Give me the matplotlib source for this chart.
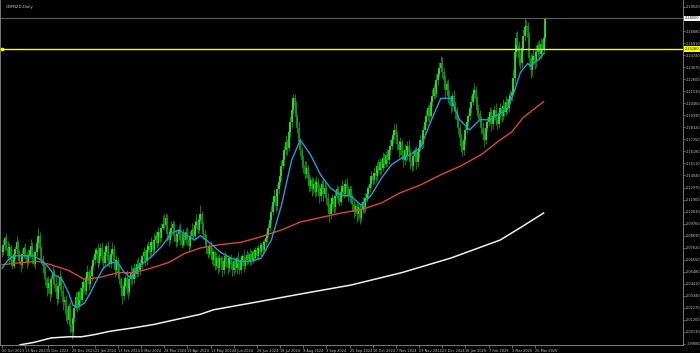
import matplotlib
matplotlib.use("Agg")
import matplotlib.pyplot as plt
import matplotlib.transforms as mtransforms
import numpy as np

plt.rcParams['font.family'] = ['Liberation Sans Narrow', 'DejaVu Sans']

title = "GBPNZD,Daily"

# daily closes, 20 Oct 2023 .. end of Mar 2025
closes = [
    2.072, 2.079, 2.085, 2.076, 2.069, 2.077, 2.065, 2.060, 2.071, 2.075, 2.081, 2.071, 2.064, 2.061, 2.071, 2.076,
    2.069, 2.063, 2.070, 2.074, 2.078, 2.068, 2.062, 2.072, 2.080, 2.087, 2.076, 2.066, 2.060, 2.055, 2.048, 2.040,
    2.045, 2.035, 2.048, 2.055, 2.044, 2.037, 2.031, 2.042, 2.050, 2.038, 2.028, 2.030, 2.017, 2.012, 2.024, 2.008,
    2.001, 2.014, 2.023, 2.032, 2.024, 2.037, 2.030, 2.040, 2.046, 2.038, 2.049, 2.055, 2.044, 2.051, 2.060, 2.065,
    2.071, 2.074, 2.063, 2.069, 2.076, 2.067, 2.063, 2.072, 2.078, 2.065, 2.062, 2.071, 2.075, 2.064, 2.056, 2.065,
    2.055, 2.048, 2.040, 2.033, 2.042, 2.049, 2.040, 2.037, 2.048, 2.055, 2.048, 2.058, 2.053, 2.062, 2.056, 2.063,
    2.062, 2.069, 2.072, 2.064, 2.074, 2.078, 2.072, 2.081, 2.074, 2.083, 2.087, 2.080, 2.090, 2.085, 2.094, 2.097,
    2.096, 2.103, 2.088, 2.083, 2.090, 2.094, 2.097, 2.087, 2.081, 2.088, 2.092, 2.083, 2.079, 2.088, 2.083, 2.090,
    2.083, 2.078, 2.087, 2.092, 2.087, 2.096, 2.099, 2.092, 2.101, 2.106, 2.097, 2.088, 2.083, 2.076, 2.071, 2.078,
    2.071, 2.065, 2.072, 2.060, 2.067, 2.058, 2.067, 2.064, 2.056, 2.064, 2.069, 2.062, 2.058, 2.067, 2.062, 2.056,
    2.064, 2.058, 2.067, 2.062, 2.056, 2.065, 2.069, 2.060, 2.065, 2.070, 2.064, 2.071, 2.065, 2.072, 2.067, 2.074,
    2.069, 2.076, 2.072, 2.079, 2.074, 2.081, 2.085, 2.088, 2.094, 2.101, 2.108, 2.117, 2.122, 2.113, 2.128, 2.135,
    2.140, 2.149, 2.154, 2.163, 2.170, 2.165, 2.179, 2.188, 2.199, 2.209, 2.202, 2.192, 2.183, 2.170, 2.163, 2.154,
    2.149, 2.142, 2.147, 2.138, 2.131, 2.136, 2.128, 2.133, 2.126, 2.135, 2.129, 2.122, 2.129, 2.133, 2.124, 2.129,
    2.120, 2.113, 2.106, 2.115, 2.120, 2.112, 2.122, 2.128, 2.120, 2.117, 2.126, 2.131, 2.124, 2.133, 2.128, 2.122,
    2.128, 2.119, 2.115, 2.108, 2.113, 2.106, 2.112, 2.103, 2.110, 2.117, 2.112, 2.120, 2.124, 2.129, 2.133, 2.140,
    2.136, 2.143, 2.140, 2.149, 2.145, 2.152, 2.147, 2.156, 2.151, 2.159, 2.154, 2.163, 2.167, 2.172, 2.176, 2.181,
    2.176, 2.168, 2.163, 2.170, 2.159, 2.154, 2.163, 2.158, 2.167, 2.161, 2.152, 2.149, 2.158, 2.163, 2.152, 2.161,
    2.165, 2.172, 2.168, 2.181, 2.188, 2.193, 2.200, 2.193, 2.206, 2.211, 2.218, 2.213, 2.225, 2.231, 2.236, 2.240,
    2.232, 2.225, 2.216, 2.222, 2.211, 2.208, 2.202, 2.211, 2.204, 2.197, 2.190, 2.183, 2.174, 2.167, 2.163, 2.172,
    2.181, 2.188, 2.193, 2.200, 2.206, 2.213, 2.216, 2.208, 2.199, 2.195, 2.190, 2.183, 2.177, 2.172, 2.183, 2.188,
    2.192, 2.197, 2.186, 2.193, 2.199, 2.190, 2.186, 2.195, 2.200, 2.193, 2.202, 2.197, 2.206, 2.200, 2.208, 2.211,
    2.215, 2.227, 2.250, 2.263, 2.256, 2.245, 2.240, 2.254, 2.264, 2.272, 2.273, 2.263, 2.245, 2.234, 2.243, 2.247,
    2.241, 2.250, 2.256, 2.248, 2.257, 2.252, 2.263, 2.280,
]

# wick lengths above the body / below the body, in thousandths
upper_wick = [
    3, 5, 2, 4, 6, 3, 2, 5, 4, 3, 6, 2, 3, 5, 4, 2,
    4, 3, 5, 2, 6, 3, 4, 2, 5, 7, 3, 2, 4, 3, 5, 2,
    6, 3, 4, 5, 2, 7, 3, 4, 6, 2, 5, 3, 4, 6, 3, 5,
    4, 8, 3, 5, 6, 2, 4, 7, 3, 5, 4, 6, 2, 5, 3, 4,
    5, 3, 6, 2, 4, 5, 3, 6, 2, 4, 5, 3, 6, 4, 2, 5,
    3, 6, 2, 4, 5, 3, 7, 2, 4, 6, 3, 5, 2, 4, 6, 3,
    4, 2, 5, 3, 6, 4, 2, 5, 3, 6, 4, 3, 5, 2, 4, 8,
    9, 4, 3, 5, 2, 6, 4, 3, 5, 2, 4, 6, 3, 5, 2, 4,
    5, 3, 4, 6, 2, 5, 7, 3, 4, 8, 3, 2, 4, 5, 3, 2,
    4, 6, 3, 2, 5, 3, 4, 2, 5, 3, 4, 2, 6, 3, 4, 2,
    3, 4, 2, 5, 3, 4, 2, 5, 3, 4, 2, 5, 3, 2, 4, 3,
    4, 3, 5, 2, 4, 3, 5, 4, 3, 6, 5, 4, 6, 3, 5, 4,
    6, 5, 7, 4, 6, 3, 8, 5, 7, 4, 4, 5, 3, 6, 4, 3,
    5, 4, 6, 3, 5, 4, 3, 6, 4, 5, 3, 4, 5, 3, 4, 6,
    4, 5, 3, 6, 4, 3, 5, 4, 3, 6, 4, 5, 3, 4, 5, 3,
    4, 3, 5, 4, 3, 5, 4, 3, 6, 4, 3, 5, 4, 3, 5, 4,
    3, 5, 4, 3, 6, 4, 3, 5, 4, 3, 5, 4, 6, 3, 4, 5,
    6, 3, 4, 5, 3, 4, 5, 3, 4, 5, 3, 4, 5, 3, 4, 5,
    3, 4, 5, 3, 4, 6, 3, 4, 5, 6, 4, 5, 6, 4, 5, 7,
    6, 4, 5, 3, 4, 5, 3, 4, 5, 3, 4, 5, 3, 4, 5, 4,
    4, 5, 3, 4, 6, 5, 7, 4, 3, 5, 4, 3, 5, 4, 6, 4,
    5, 4, 3, 5, 4, 6, 3, 4, 5, 3, 6, 4, 5, 3, 6, 5,
    6, 8, 7, 5, 6, 4, 5, 6, 7, 8, 6, 4, 5, 4, 5, 6,
    5, 6, 4, 5, 6, 5, 4, 1,
]
lower_wick = [
    4, 2, 5, 3, 2, 6, 4, 3, 2, 5, 3, 4, 2, 6, 3, 4,
    3, 5, 2, 4, 3, 6, 2, 4, 3, 5, 2, 4, 6, 3, 5, 7,
    4, 6, 3, 5, 4, 3, 6, 4, 2, 5, 7, 3, 6, 4, 5, 8,
    6, 3, 4, 2, 5, 3, 4, 2, 5, 3, 4, 2, 5, 3, 4, 3,
    3, 4, 5, 2, 4, 3, 6, 4, 2, 5, 3, 4, 2, 5, 6, 4,
    5, 4, 6, 7, 3, 4, 5, 6, 3, 4, 5, 3, 4, 3, 5, 4,
    3, 5, 2, 4, 3, 2, 5, 3, 4, 2, 3, 4, 2, 5, 3, 2,
    3, 4, 6, 5, 3, 4, 2, 5, 4, 3, 5, 4, 3, 2, 4, 3,
    4, 5, 3, 2, 4, 3, 2, 4, 3, 2, 5, 4, 3, 5, 4, 3,
    4, 3, 5, 4, 3, 5, 3, 4, 5, 3, 4, 3, 5, 3, 4, 5,
    4, 3, 5, 4, 3, 2, 4, 5, 3, 4, 2, 3, 4, 2, 3, 2,
    3, 4, 2, 3, 4, 2, 3, 4, 2, 3, 4, 3, 2, 5, 3, 4,
    3, 4, 3, 5, 4, 6, 3, 4, 5, 4, 6, 7, 5, 6, 5, 7,
    6, 5, 4, 6, 5, 4, 6, 4, 5, 4, 5, 6, 4, 5, 6, 4,
    5, 6, 7, 4, 5, 6, 4, 3, 5, 4, 3, 5, 4, 3, 5, 4,
    5, 4, 6, 5, 4, 7, 5, 6, 4, 3, 5, 4, 3, 4, 3, 4,
    4, 3, 5, 4, 3, 4, 5, 3, 4, 3, 5, 3, 4, 3, 4, 3,
    4, 5, 6, 4, 5, 6, 4, 5, 4, 5, 6, 5, 4, 5, 6, 4,
    5, 3, 4, 3, 4, 3, 4, 5, 3, 4, 3, 4, 3, 4, 3, 4,
    5, 6, 7, 4, 6, 5, 6, 4, 5, 6, 5, 6, 7, 6, 5, 4,
    4, 3, 4, 3, 4, 3, 4, 5, 6, 4, 5, 6, 5, 6, 4, 3,
    4, 3, 6, 4, 3, 5, 4, 3, 4, 5, 3, 4, 3, 5, 3, 4,
    4, 3, 5, 4, 6, 7, 5, 4, 3, 4, 3, 6, 8, 7, 5, 4,
    6, 4, 3, 5, 4, 5, 4, 3,
]

# moving averages (bar index, price)
fast_ma_bars = [0, 4, 8, 18, 22, 27, 32, 36, 41, 46, 49, 52, 57, 61, 66, 70, 75, 80, 84, 89, 94, 98, 103, 110,
                117, 122, 128, 133, 137, 144, 151, 158, 165, 172, 179, 186, 193, 200, 206, 213, 220, 227, 234,
                241, 248, 255, 262, 269, 276, 282, 289, 296, 303, 310, 316, 323, 330, 337, 344, 349, 354, 358,
                363, 365, 367, 371, 374]
fast_ma = [2.058, 2.065, 2.069, 2.069, 2.069, 2.065, 2.059, 2.052, 2.049, 2.036, 2.025, 2.023, 2.027, 2.036,
           2.049, 2.058, 2.063, 2.063, 2.055, 2.049, 2.059, 2.063, 2.068, 2.077, 2.089, 2.092, 2.087, 2.083,
           2.087, 2.080, 2.072, 2.067, 2.064, 2.064, 2.067, 2.083, 2.114, 2.154, 2.172, 2.159, 2.141, 2.129,
           2.123, 2.122, 2.114, 2.123, 2.138, 2.150, 2.156, 2.159, 2.165, 2.188, 2.209, 2.209, 2.190, 2.181,
           2.190, 2.190, 2.196, 2.199, 2.216, 2.232, 2.240, 2.238, 2.240, 2.244, 2.249]

mid_ma_bars = [0, 13, 25, 34, 46, 57, 68, 80, 91, 103, 115, 126, 137, 151, 165, 179, 193, 206, 220, 234, 248,
               262, 275, 289, 303, 317, 331, 344, 352, 360, 367, 374]
mid_ma = [2.061, 2.063, 2.064, 2.061, 2.056, 2.048, 2.050, 2.054, 2.054, 2.058, 2.063, 2.071, 2.076, 2.079,
          2.081, 2.086, 2.092, 2.099, 2.103, 2.107, 2.110, 2.116, 2.125, 2.132, 2.141, 2.149, 2.159, 2.172,
          2.179, 2.192, 2.199, 2.206]

slow_ma_bars = [0, 13, 22, 34, 46, 55, 64, 75, 91, 105, 119, 137, 146, 172, 206, 241, 276, 310, 344, 358, 374]
slow_ma = [1.983, 1.990, 1.992, 1.996, 1.997, 1.997, 1.999, 2.002, 2.005, 2.008, 2.012, 2.017, 2.021, 2.027,
           2.035, 2.043, 2.054, 2.067, 2.083, 2.094, 2.107]

hline_level = 2.2528

price_ticks = [1.99060, 2.00130, 2.01200, 2.02270, 2.03340, 2.04410, 2.05480, 2.06550, 2.07620, 2.08690,
               2.09760, 2.10830, 2.11900, 2.12970, 2.14040, 2.15110, 2.16180, 2.17250, 2.18320, 2.19390,
               2.20460, 2.21530, 2.22600, 2.23670, 2.24740, 2.25810, 2.26880, 2.27950, 2.29020]

date_labels = ["20 Oct 2023", "13 Nov 2023", "5 Dec 2023", "28 Dec 2023", "22 Jan 2024", "13 Feb 2024",
               "6 Mar 2024", "28 Mar 2024", "19 Apr 2024", "13 May 2024", "4 Jun 2024", "26 Jun 2024",
               "18 Jul 2024", "9 Aug 2024", "3 Sep 2024", "25 Sep 2024", "16 Oct 2024", "7 Nov 2024",
               "29 Nov 2024", "23 Dec 2024", "16 Jan 2025", "7 Feb 2025", "3 Mar 2025", "25 Mar 2025"]

fig = plt.figure(figsize=(7.0, 3.53), dpi=100, facecolor='black')
ax = fig.add_axes([0.0, 8 / 353, 683 / 700, 345 / 353])
ax.set_facecolor('black')

c = np.array(closes)
o = np.r_[c[0], c[:-1]]
idx = np.arange(len(c))
hi = np.maximum(o, c) + np.array(upper_wick) * 0.001
lo = np.minimum(o, c) - np.array(lower_wick) * 0.001
up = c >= o
ax.vlines(idx, lo, hi, color='#16b016', lw=0.5)
ax.vlines(idx[up], o[up], c[up], color='#2bf02b', lw=1.2)
ax.vlines(idx[~up], o[~up], c[~up], color='#0e9a0e', lw=1.2)

ax.plot(slow_ma_bars, slow_ma, color='#f0f0f0', lw=1.1)
ax.plot(mid_ma_bars, mid_ma, color='#d9482c', lw=1.0)
ax.plot(fast_ma_bars, fast_ma, color='#1a9ee0', lw=1.0)

# bid line and horizontal level
ax.axhline(closes[-1], color='#5e5e5e', lw=0.8)
ax.axhline(hline_level, color='#ffff00', lw=1.0)

ax.set_xlim(-1.4, 470.3)
ax.set_ylim(1.9897, 2.2964)

trans = mtransforms.blended_transform_factory(ax.transAxes, ax.transData)
ax.plot([0.003], [hline_level], marker='s', ms=2, color='#ffff00', transform=trans, clip_on=False)
ax.text(1.003, closes[-1], '%.5f' % closes[-1], transform=trans, fontsize=2.5, color='black',
        ha='left', va='center', bbox=dict(boxstyle='square,pad=0.2', fc='white', ec='none'))
ax.text(1.003, hline_level, '%.5f' % hline_level, transform=trans, fontsize=2.5, color='black',
        ha='left', va='center', bbox=dict(boxstyle='square,pad=0.2', fc='#ffff00', ec='none'))

ax.yaxis.tick_right()
ax.set_yticks(price_ticks)
ax.set_yticklabels(['%.5f' % v for v in price_ticks])
ax.set_xticks(range(0, 16 * len(date_labels), 16))
ax.set_xticklabels(date_labels, ha='left')
ax.tick_params(axis='y', colors='#909090', labelcolor='#c8c8c8', labelsize=2.5, length=1.5, width=0.5, pad=0.8)
ax.tick_params(axis='x', colors='#909090', labelcolor='#c8c8c8', labelsize=2.5, length=2.5, width=0.5, pad=0.5)

ax.spines['top'].set_visible(False)
for side in ['right', 'bottom', 'left']:
    ax.spines[side].set_color('#8a8a8a')
    ax.spines[side].set_linewidth(0.6)

ax.text(0.008, 0.985, title, transform=ax.transAxes, fontsize=2.8, color='#c8c8c8', ha='left', va='top')

fig.savefig('out.png', dpi=100, facecolor='black')
